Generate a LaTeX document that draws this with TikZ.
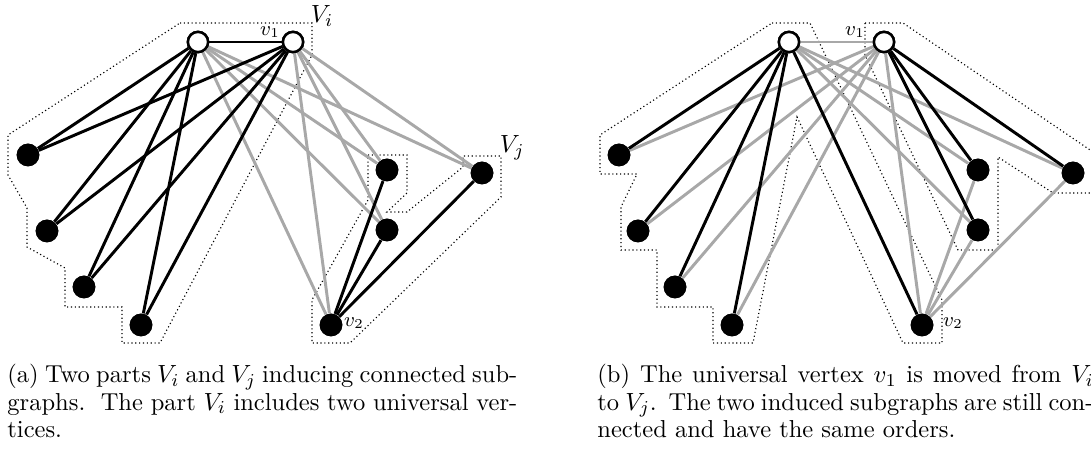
\documentclass[tikz,border=0pt]{standalone}
\definecolor{edgegray}{gray}{0.66}
\newcommand{\caplineA}[1]{\hbox to 224.6pt{#1}}
\newcommand{\caplineB}[1]{\hbox to 218.5pt{#1}}
\tikzset{
 bnode/.style={circle,fill=black,inner sep=0pt,minimum size=10pt},
 wnode/.style={circle,draw=black,fill=white,line width=1.1pt,inner sep=0pt,minimum size=8.9pt},
 bedge/.style={draw=black,line width=1.3pt},
 gedge/.style={draw=edgegray,line width=1.3pt},
 hull/.style={draw=black,line width=0.5pt,dash pattern=on 0.5pt off 1.2pt},
 biglab/.style={inner sep=0pt,font=\fontsize{10.95}{13}\selectfont},
 smalllab/.style={inner sep=0pt,font=\small},
 captext/.style={anchor=base west,inner sep=0pt,font=\fontsize{10.8}{12}\selectfont}
}
\begin{document}
\begin{tikzpicture}[x=0.4405pt,y=-0.4405pt]
\useasboundingbox (0,0) rectangle (1091,452);
\clip (0,0) rectangle (1091,452);
% ---------- panel (a) hulls
\draw[hull] (180,23) -- (312,23) -- (312,55) -- (160,343) -- (122,343) -- (122,307) -- (65,307) -- (65,268) -- (27,247) -- (27,208) -- (8,175) -- (8,135) -- cycle;
\draw[hull] (368,155) -- (407,155) -- (407,193) -- (387,212) -- (407,212) -- (463,167) -- (463,156) -- (501,156) -- (501,197) -- (350,343) -- (312,343) -- (312,300) -- (368,200) -- cycle;
% ---------- panel (a) nodes
\node[wnode] (au) at (198,42) {};
\node[wnode] (av1) at (293,42) {};
\node[bnode] (aL1) at (28,155) {};
\node[bnode] (aL2) at (47,231) {};
\node[bnode] (aL3) at (84,287) {};
\node[bnode] (aL4) at (141,325) {};
\node[bnode] (aR1) at (387,170) {};
\node[bnode] (aR2) at (387,230) {};
\node[bnode] (aW) at (482,173) {};
\node[bnode] (av2) at (331,325) {};
% gray edges (a)
\foreach \t in {aR1,aR2,aW,av2} {
  \draw[gedge] (au) -- (\t);
  \draw[gedge] (av1) -- (\t);
}
% black edges (a)
\draw[bedge] (au) -- (av1);
\foreach \t in {aL1,aL2,aL3,aL4} {
  \draw[bedge] (au) -- (\t);
  \draw[bedge] (av1) -- (\t);
}
\foreach \t in {aR1,aR2,aW} \draw[bedge] (av2) -- (\t);
% redraw nodes on top
\node[wnode] at (au) {};
\node[wnode] at (av1) {};
\foreach \t in {aL1,aL2,aL3,aL4,aR1,aR2,aW,av2} \node[bnode] at (\t) {};
% labels (a)
\node[biglab] (aVi) at (322,16) {$V_i$};
\node[smalllab] (av1l) at (270,32) {$v_1$};
\node[biglab] (aVj) at (512,148) {$V_j$};
\node[smalllab] (av2l) at (354,323) {$v_2$};

% ---------- panel (b) hulls
\draw[hull] (772,23) -- (810,23) -- (942,300) -- (942,343) -- (903,343) -- (797,117) -- (753,343) -- (713,343) -- (713,307) -- (657,307) -- (657,250) -- (621,250) -- (621,207) -- (637,174) -- (600,174) -- (600,135) -- cycle;
\draw[hull] (865,23) -- (903,23) -- (1096,154) -- (1096,193) -- (1053,193) -- (998,157) -- (998,250) -- (958,250) -- (865,55) -- cycle;
% ---------- panel (b) nodes
\node[wnode] (bu) at (789,42) {};
\node[wnode] (bv1) at (884,42) {};
\node[bnode] (bL1) at (619,155) {};
\node[bnode] (bL2) at (638,231) {};
\node[bnode] (bL3) at (675,287) {};
\node[bnode] (bL4) at (732,325) {};
\node[bnode] (bR1) at (978,170) {};
\node[bnode] (bR2) at (978,230) {};
\node[bnode] (bW) at (1073,173) {};
\node[bnode] (bv2) at (922,325) {};
% gray edges (b)
\draw[gedge] (bu) -- (bv1);
\foreach \t in {bL1,bL2,bL3,bL4} \draw[gedge] (bv1) -- (\t);
\foreach \t in {bR1,bR2,bW} {
  \draw[gedge] (bu) -- (\t);
  \draw[gedge] (bv2) -- (\t);
}
\draw[gedge] (bv1) -- (bv2);
% black edges (b)
\foreach \t in {bL1,bL2,bL3,bL4,bv2} \draw[bedge] (bu) -- (\t);
\foreach \t in {bR1,bR2,bW} \draw[bedge] (bv1) -- (\t);
\node[wnode] at (bu) {};
\node[wnode] at (bv1) {};
\foreach \t in {bL1,bL2,bL3,bL4,bR1,bR2,bW,bv2} \node[bnode] at (\t) {};
% labels (b)
\node[smalllab] (bv1l) at (855,32) {$v_1$};
\node[smalllab] (bv2l) at (953,323) {$v_2$};

% ---------- captions
\node[captext] (capa) at (7,383) {\vtop{\caplineA{(a) Two parts $V_i$ and $V_j$ inducing connected sub-}
\caplineA{graphs.\ \ The part $V_i$ includes two universal ver-}
\hbox{tices.}}};
\node[captext] (capb) at (597,383) {\vtop{\caplineB{(b) The universal vertex $v_1$ is moved from $V_i$}
\caplineB{to $V_j$.\ \ The two induced subgraphs are still con-}
\hbox{nected and have the same orders.}}};
\end{tikzpicture}
\end{document}
